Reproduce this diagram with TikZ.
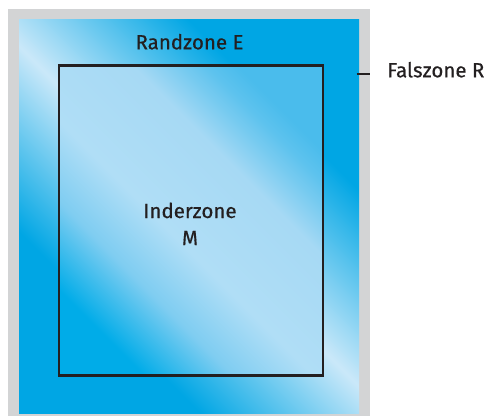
\documentclass[tikz,border=0pt]{standalone}
\usepackage{fontspec}
\setmainfont{Fira Sans}
\newfontfamily\zonefont{Fira Sans}[FakeBold=0.5]
\usetikzlibrary{positioning}

\definecolor{zonegrey}{HTML}{D3D4D5}
\definecolor{zonedark}{HTML}{00A6E4}
\definecolor{zonelight}{HTML}{CAE8F9}
\definecolor{innerbl}{HTML}{00ACE8}
\definecolor{innerlow}{HTML}{7FCDF1}
\definecolor{innerpeak}{HTML}{B0DEF6}
\definecolor{innermid}{HTML}{A6D9F4}
\definecolor{innerhigh}{HTML}{5EC3EE}
\definecolor{innertr}{HTML}{4ABCEC}
\definecolor{inkgrey}{HTML}{231F20}

% diagonal bands, rotated by -45 when used
\pgfdeclareverticalshading{outerzone}{100bp}{color(0bp)=(zonedark); color(32bp)=(zonedark); color(50bp)=(zonelight); color(69bp)=(zonedark); color(100bp)=(zonedark)}
\pgfdeclareverticalshading{innerzone}{100bp}{color(0bp)=(innerbl); color(25bp)=(innerbl); color(36bp)=(innerlow); color(46bp)=(innerpeak); color(62bp)=(innermid); color(71bp)=(innerhigh); color(75bp)=(innertr); color(100bp)=(innertr)}

\tikzstyle{frame}=[inkgrey, line width = 2.6pt, line join=miter]
\tikzstyle{zonelabel}=[inkgrey, inner sep=0pt, font=\zonefont\fontsize{20.5}{27}\selectfont]

\begin{document}
\begin{tikzpicture}[x=1pt, y=-1pt]
	
	\useasboundingbox (0,0) rectangle (485,416);
	
	% grey false zone and the outer blue zone
	\fill[zonegrey] (8,9) rectangle (370,416);
	\shade[shading=outerzone, shading angle=-45] (19,19) rectangle (359,413);
	
	% inner zone
	\shade[shading=innerzone, shading angle=-45] (59,65.7) rectangle (322.8,375.5);
	\draw[frame] (59,65.7) rectangle (322.8,375.5);
	
	\node[zonelabel, anchor=base] (randzone) at (189.5,49.3) {Randzone E};
	\node[zonelabel, anchor=base, align=center] (inderzone) at (190,245) {Inderzone\\M};
	\node[zonelabel, anchor=base west] (falszone) at (387,77.3) {Falszone R};
	
	\coordinate (rtick) at (356.7,74.3);
	\draw[inkgrey, line width=2.3pt, shorten >=17pt] (rtick) -- (rtick -| falszone.west);
	
\end{tikzpicture}
\end{document}
